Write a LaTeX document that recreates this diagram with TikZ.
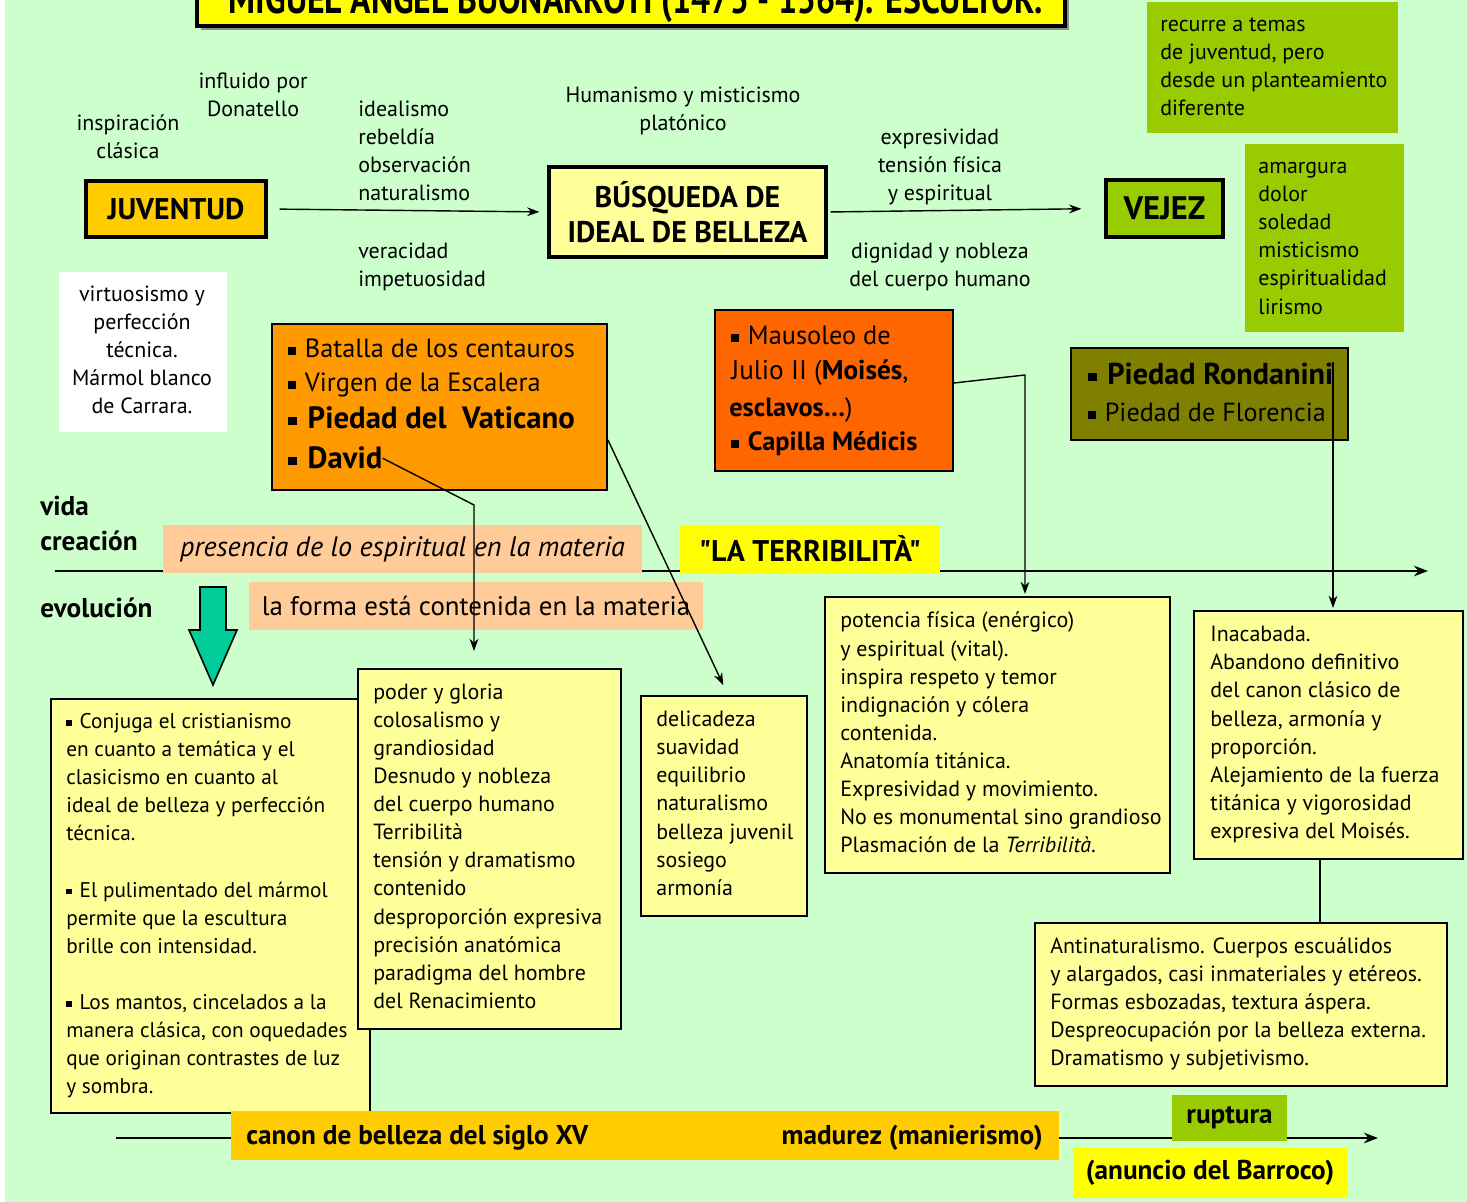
\documentclass[tikz,border=0pt]{standalone}
\usepackage{fontspec}
\setmainfont{PT Sans}
\usetikzlibrary{arrows.meta}
\definecolor{bgc}{HTML}{CCFFCC}
\definecolor{yel}{HTML}{FFFF00}
\definecolor{pale}{HTML}{FFFF99}
\definecolor{gold}{HTML}{FFCC00}
\definecolor{lime}{HTML}{99CC00}
\definecolor{orA}{HTML}{FF9900}
\definecolor{orB}{HTML}{FF6600}
\definecolor{oliv}{HTML}{808000}
\definecolor{salm}{HTML}{FFCC99}
\definecolor{tealc}{HTML}{00CC99}
\newcommand{\bul}{\rule[0.25ex]{0.28em}{0.28em}\hspace{0.35em}}
\tikzset{
  sz/.style 2 args={minimum width=#1*0.02cm, minimum height=#2*0.02cm, inner sep=0pt},
  head/.style={draw=black, line width=1.8pt, font=\fontsize{17}{20}\selectfont\bfseries, align=center},
  thinbox/.style={draw=black, line width=1.1pt},
  flat/.style={draw=none},
  lbl/.style={font=\fontsize{12.5}{16}\selectfont, inner sep=0pt},
  lbll/.style={lbl, align=left, anchor=base west},
  lblc/.style={lbl, align=center, anchor=base},
  heavy/.style={font=\fontsize{15.5}{17}\selectfont\bfseries, inner sep=0pt},
  arr/.style={-{Stealth[length=7pt,width=5pt]}, line width=0.8pt},
  conn/.style={line width=0.9pt},
  tline/.style={-{Stealth[length=8pt,width=6pt]}, line width=1.3pt},
}
\begin{document}
\begin{tikzpicture}[x=0.02cm,y=-0.02cm]
\useasboundingbox (0,0) rectangle (1467,1202);
\clip (0,0) rectangle (1467,1202);
\fill[white] (0,0) rectangle (1467,1202);
\fill[bgc] (5,0) rectangle (1467,1202);

% title (cut off at the top edge, as in the reference)
\fill[black!45] (201,-40) rectangle (1069,30);
\node[draw=black, line width=1.8pt, fill=yel, sz={868}{70}] (title) at (631,-9) {};
\node[font=\fontsize{24}{26}\selectfont\bfseries, anchor=base, inner sep=0pt] (ttltxt) at (636,14) {\scalebox{0.8}[1]{MIGUEL ÁNGEL BUONARROTI (1475 - 1564). ESCULTOR.}};

% timelines
\coordinate (t1s) at (55,571);
\coordinate (t1e) at (1428,571);
\draw[tline] (t1s) -- (t1e);
\coordinate (t2s) at (116,1138);
\coordinate (t2e) at (1378,1138);
\draw[tline] (t2s) -- (t2e);

% top right green box (anchors: baseline of LAST line)
\node[flat, fill=lime, sz={251}{131}] (trg) at (1272.5,67.5) {};
\node[lbll] (trgt) at (1160,115.7) {recurre a temas\\de juventud, pero\\desde un planteamiento\\diferente};

% top labels
\node[lblc] (insp) at (128,158.2) {inspiración\\clásica};
\node[lblc] (infl) at (253,116.2) {influido por\\Donatello};
\node[lbll] (ideal) at (358,200.7) {idealismo\\rebeldía\\observación\\naturalismo};
\node[lbll] (verac) at (358,286.2) {veracidad\\impetuosidad};
\node[lblc] (human) at (683,130.2) {Humanismo y misticismo\\platónico};
\node[lblc] (expr) at (940,200.4) {expresividad\\tensión física\\y espiritual};
\node[lblc] (dign) at (940,286.2) {dignidad y nobleza\\del cuerpo humano};

% headings
\node[head, fill=gold, sz={180}{56}] (juv) at (176,209) {JUVENTUD};
\node[head, fill=pale, sz={277}{90}] (bus) at (687.5,212) {BÚSQUEDA DE\\IDEAL DE BELLEZA};
\node[head, fill=lime, sz={117}{57}, font=\fontsize{18.5}{20}\selectfont\bfseries] (vej) at (1164.5,208.5) {VEJEZ};

% amargura box
\node[flat, fill=lime, sz={159}{188}] (amg) at (1324.5,238) {};
\node[lbll] (amgt) at (1258,314.1) {amargura\\dolor\\soledad\\misticismo\\espiritualidad\\lirismo};

% white box
\node[flat, fill=white, sz={168}{160}] (wb) at (143,352) {};
\node[lblc] (wbt) at (142,413.9) {virtuosismo y\\perfección\\técnica.\\Mármol blanco\\de Carrara.};

% orange A
\node[thinbox, fill=orA, sz={335}{166}] (oA) at (439.5,407) {};
\node[anchor=base west, inner sep=0pt, font=\fontsize{15}{16}\selectfont] (bat) at (288,358) {\bul Batalla de los centauros};
\node[anchor=base west, inner sep=0pt, font=\fontsize{15}{16}\selectfont] (vir) at (288,392) {\bul Virgen de la Escalera};
\node[anchor=base west, inner sep=0pt, font=\fontsize{17.5}{18}\selectfont\bfseries] (vat) at (288,429) {\bul Piedad del\ \ Vaticano};
\node[anchor=base west, inner sep=0pt, font=\fontsize{17.5}{18}\selectfont\bfseries] (david) at (288,469) {\bul David};

% orange B
\node[thinbox, fill=orB, sz={238}{161}] (oB) at (834,390.5) {};
\node[anchor=base west, inner sep=0pt, font=\fontsize{15}{16}\selectfont] (mau1) at (731,345) {\bul Mausoleo de};
\node[anchor=base west, inner sep=0pt, font=\fontsize{15.5}{16}\selectfont] (mau2) at (731,380) {Julio II (\textbf{Moisés},};
\node[anchor=base west, inner sep=0pt, font=\fontsize{15}{16}\selectfont] (mau3) at (729,417) {\textbf{esclavos\ldots})};
\node[anchor=base west, inner sep=0pt, font=\fontsize{15}{16}\selectfont\bfseries] (capi) at (731,451) {\bul Capilla Médicis};

% olive
\node[thinbox, fill=oliv, sz={277}{92}] (olv) at (1209.5,394) {};
\node[anchor=base west, inner sep=0pt, font=\fontsize{17.2}{18}\selectfont\bfseries] (ron) at (1088,385) {\bul Piedad Rondanini};
\node[anchor=base west, inner sep=0pt, font=\fontsize{14.9}{16}\selectfont] (flo) at (1088,422) {\bul Piedad de Florencia};

% side labels
\node[heavy, anchor=base west] (vida) at (40,516) {vida};
\node[heavy, anchor=base west] (crea) at (40,550) {creación};
\node[heavy, anchor=base west] (evol) at (40,617) {evolución};

% band labels
\node[flat, fill=salm, sz={479}{48}, font=\fontsize{16}{17}\selectfont\itshape] (pres) at (402.5,549) {presencia de lo espiritual en la materia};
\node[flat, fill=yel, sz={260}{48}, font=\fontsize{17}{18}\selectfont\bfseries\addfontfeatures{Ligatures=TeXOff}] (terr) at (810,549) {"LA TERRIBILITÀ"};
\node[flat, fill=salm, sz={454}{48}, font=\fontsize{15.3}{17}\selectfont] (forma) at (476,606) {la forma está contenida en la materia};

% teal arrow
\draw[fill=tealc, line width=0.9pt] (200,587) -- (226,587) -- (226,630) -- (237,630) -- (213,685) -- (189,630) -- (200,630) -- cycle;

% yellow boxes
\node[thinbox, fill=pale, sz={319}{414}] (bA) at (210.5,906) {};
\node[lbll, font=\fontsize{12.1}{16}\selectfont] (bAt) at (66,1093.9) {\bul Conjuga el cristianismo\\en cuanto a temática y el\\clasicismo en cuanto al\\ideal de belleza y perfección\\técnica.\\[16pt]\bul El pulimentado del mármol\\permite que la escultura\\brille con intensidad.\\[16pt]\bul Los mantos, cincelados a la\\manera clásica, con oquedades\\que originan contrastes de luz\\y sombra.};

\node[thinbox, fill=pale, sz={263}{360}] (bB) at (489.5,849) {};
\node[lbll] (bBt) at (373,1008.4) {poder y gloria\\colosalismo y\\grandiosidad\\Desnudo y nobleza\\del cuerpo humano\\Terribilità\\tensión y dramatismo\\contenido\\desproporción expresiva\\precisión anatómica\\paradigma del hombre\\del Renacimiento};

\node[thinbox, fill=pale, sz={166}{220}] (bC) at (724,806) {};
\node[lbll] (bCt) at (656,895.3) {delicadeza\\suavidad\\equilibrio\\naturalismo\\belleza juvenil\\sosiego\\armonía};

\node[thinbox, fill=pale, sz={345}{276}] (bD) at (997.5,735) {};
\node[lbll] (bDt) at (840,852.8) {potencia física (enérgico)\\y espiritual (vital).\\inspira respeto y temor\\indignación y cólera\\contenida.\\Anatomía titánica.\\Expresividad y movimiento.\\No es monumental sino grandioso\\Plasmación de la \textit{Terribilità}.};

\node[thinbox, fill=pale, sz={269}{248}] (bE) at (1328.5,735) {};
\node[lbll] (bEt) at (1210,838.5) {Inacabada.\\Abandono definitivo\\del canon clásico de\\belleza, armonía y\\proporción.\\Alejamiento de la fuerza\\titánica y vigorosidad\\expresiva del Moisés.};

\node[thinbox, fill=pale, sz={412}{163}] (bF) at (1241,1004.5) {};
\node[lbll] (bFt) at (1050,1065.9) {Antinaturalismo. Cuerpos escuálidos\\y alargados, casi inmateriales y etéreos.\\Formas esbozadas, textura áspera.\\Despreocupación por la belleza externa.\\Dramatismo y subjetivismo.};

% bottom band
\node[flat, fill=gold, sz={828}{49}] (band) at (645,1135.5) {};
\node[heavy, anchor=base west] (canon) at (246,1144) {canon de belleza del siglo XV};
\node[heavy, anchor=base east] (madu) at (1043,1144) {madurez (manierismo)};
\node[flat, fill=lime, sz={115}{46}, font=\fontsize{15.5}{17}\selectfont\bfseries] (rupt) at (1229.5,1118) {ruptura};
\node[flat, fill=yel, sz={274}{50}, font=\fontsize{15.5}{17}\selectfont\bfseries] (anun) at (1210,1173) {(anuncio del Barroco)};

% connectors
\draw[arr, shorten <=0.24cm, shorten >=0.16cm] (juv.east) -- (bus.west);
\draw[arr, shorten <=0.06cm, shorten >=0.46cm] (bus.east) -- (vej.west);
\coordinate (dk) at (474,505);
\draw[arr, shorten >=0.34cm] (david.east) -- (dk) -- (dk |- bB.north);
\draw[arr, shorten >=0.22cm] (oA.east |- 0,440) -- (bC.north -| 728,0);
\coordinate (mk) at (1025,375);
\draw[arr, shorten >=0.04cm] (oB.east |- 0,383) -- (mk) -- (mk |- bD.north);
\coordinate (rk) at (1333,362);
\draw[arr, shorten >=0.04cm] (rk) -- (rk |- bE.north);
\draw[conn] (bE.south -| 1320,0) -- (bF.north -| 1320,0);
\end{tikzpicture}
\end{document}
